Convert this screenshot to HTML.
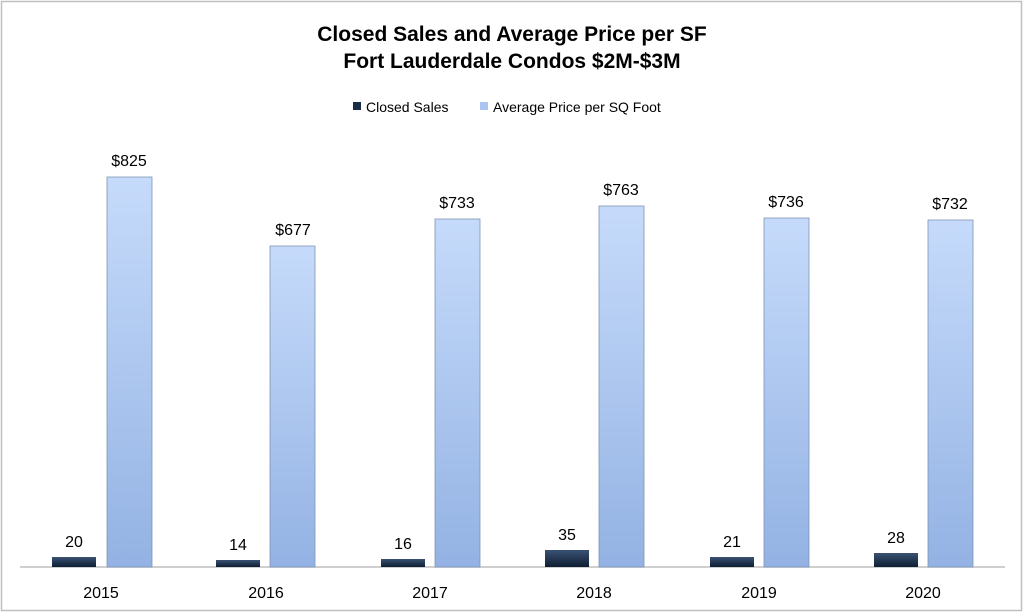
<!DOCTYPE html>
<html><head><style>
body{margin:0;background:#fff;}
svg{display:block;font-family:"Liberation Sans",sans-serif;}
</style></head><body>
<svg width="1024" height="613" viewBox="0 0 1024 613">
<defs>
<linearGradient id="lg" x1="0" y1="0" x2="0" y2="1"><stop offset="0" stop-color="#c6dbfb"/><stop offset="1" stop-color="#93b2e3"/></linearGradient>
<linearGradient id="dg" x1="0" y1="0" x2="0" y2="1"><stop offset="0" stop-color="#3a5273"/><stop offset="1" stop-color="#0e1e33"/></linearGradient>
</defs>
<rect x="1.5" y="1.5" width="1020" height="609" fill="#fff" stroke="#bfbfbf" stroke-width="1.5"/>
<text x="512" y="41" text-anchor="middle" font-size="21" font-weight="bold">Closed Sales and Average Price per SF</text>
<text x="512" y="68" text-anchor="middle" font-size="21" font-weight="bold">Fort Lauderdale Condos $2M-$3M</text>
<rect x="353" y="102" width="8" height="8" fill="#1a2c45"/>
<text x="366" y="112" font-size="14">Closed Sales</text>
<rect x="480" y="102" width="8" height="8" fill="#a9c4ee"/>
<text x="493" y="112" font-size="14">Average Price per SQ Foot</text>
<line x1="20" y1="567" x2="1005" y2="567" stroke="#bfbfbf" stroke-width="1.5"/>
<g stroke="#7f93b3" stroke-width="0.8">
<rect x="107" y="177" width="45" height="390" fill="url(#lg)"/>
<rect x="270" y="246" width="45" height="321" fill="url(#lg)"/>
<rect x="435" y="219" width="45" height="348" fill="url(#lg)"/>
<rect x="599" y="206" width="45" height="361" fill="url(#lg)"/>
<rect x="764" y="218" width="45" height="349" fill="url(#lg)"/>
<rect x="928" y="220" width="45" height="347" fill="url(#lg)"/>
</g>
<g>
<rect x="52" y="557" width="44" height="10" fill="url(#dg)"/>
<rect x="216" y="560" width="44" height="7" fill="url(#dg)"/>
<rect x="381" y="559" width="44" height="8" fill="url(#dg)"/>
<rect x="545" y="550" width="44" height="17" fill="url(#dg)"/>
<rect x="710" y="557" width="44" height="10" fill="url(#dg)"/>
<rect x="874" y="553" width="44" height="14" fill="url(#dg)"/>
</g>
<g font-size="16" text-anchor="middle">
<text x="129" y="166">$825</text>
<text x="293" y="235">$677</text>
<text x="457" y="208">$733</text>
<text x="621" y="195">$763</text>
<text x="786" y="207">$736</text>
<text x="950" y="209">$732</text>
<text x="74" y="547">20</text>
<text x="238" y="550">14</text>
<text x="403" y="549">16</text>
<text x="567" y="540">35</text>
<text x="732" y="547">21</text>
<text x="896" y="543">28</text>
<text x="101" y="598">2015</text>
<text x="266" y="598">2016</text>
<text x="430" y="598">2017</text>
<text x="594" y="598">2018</text>
<text x="759" y="598">2019</text>
<text x="923" y="598">2020</text>
</g>
</svg>
</body></html>
